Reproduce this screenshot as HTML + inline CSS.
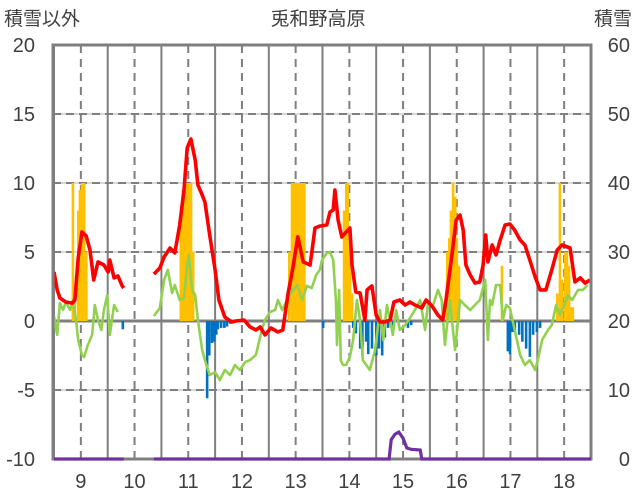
<!DOCTYPE html>
<html><head><meta charset="utf-8"><style>
body{margin:0;background:#fff;}
svg{display:block;font-family:"Liberation Sans","Noto Sans CJK JP",sans-serif;}
</style></head><body>
<svg id="chart" width="636" height="501" viewBox="0 0 636 501">
<text x="318" y="25" text-anchor="middle" font-size="19" fill="#404040">兎和野高原</text>
<text x="4" y="25" font-size="19" fill="#404040">積雪以外</text>
<text x="632" y="25" text-anchor="end" font-size="19" fill="#404040">積雪</text>
<g id="grid"></g>
<g id="bars"></g>
<g id="lines"></g>
<g id="frame"></g>
<g id="ticks"></g>
</svg>
<script>
const dayLabels=[9,10,11,12,13,14,15,16,17,18];
const leftTicks=[20,15,10,5,0,-5,-10];
const rightTicks=[60,50,40,30,20,10,0];
const redT=[9.00,9.06,9.11,9.22,9.34,9.39,9.45,9.52,9.60,9.67,9.74,9.82,9.93,10.01,10.04,10.12,10.19,10.27,10.30,null,10.86,10.97,11.05,11.16,11.25,11.34,11.42,11.48,11.55,11.63,11.68,11.76,11.81,11.90,12.00,12.07,12.18,12.31,12.39,12.54,12.65,12.76,12.84,12.93,13.04,13.17,13.26,13.36,13.45,13.54,13.64,13.77,13.86,13.95,14.08,14.14,14.20,14.23,14.29,14.36,14.44,14.51,14.55,14.62,14.70,14.79,14.83,14.92,15.00,15.07,15.16,15.26,15.33,15.44,15.54,15.63,15.72,15.85,15.93,16.04,16.15,16.24,16.30,16.41,16.49,16.56,16.62,16.67,16.75,16.84,16.93,16.99,17.04,17.08,17.16,17.23,17.31,17.40,17.49,17.58,17.68,17.77,17.86,17.96,18.05,18.16,18.27,18.37,18.46,18.61,18.70,18.80,18.89,18.98];
const redV=[3.55,2.25,1.67,1.38,1.3,1.52,4.57,6.45,6.16,5.14,2.97,4.28,4.06,3.55,4.42,3.12,3.26,2.54,2.39,null,3.4,3.84,4.64,5.29,4.93,6.96,9.49,12.54,13.19,11.67,9.86,9.13,8.62,6.23,3.7,1.52,0.29,-0.07,0,0.07,-0.43,-0.65,-0.43,-1.01,-0.51,-0.8,-0.65,2.0,3.9,6.1,4.28,4.06,6.74,6.88,6.96,7.9,8.04,9.49,7.32,6.09,6.45,6.74,4.06,2.1,2.03,0.07,2.25,2.54,0.43,-0.07,-0.07,0.07,1.38,1.52,1.16,1.38,1.16,0.94,1.52,1.09,0.43,0.07,1.52,4.78,7.32,7.68,6.59,4.06,3.33,2.75,2.83,4.06,6.23,4.28,5.51,4.78,5.87,6.96,7.03,6.59,5.87,5.51,4.42,3.19,2.25,2.25,3.7,5.14,5.51,5.29,2.83,3.12,2.75,2.97];
const greenT=[9.00,9.06,9.11,9.17,9.22,9.30,9.35,9.41,9.45,9.52,9.56,9.63,9.71,9.76,9.82,9.88,9.93,9.99,10.04,10.12,10.19,null,10.86,10.97,11.05,11.12,11.20,11.25,11.34,11.42,11.48,11.51,11.57,11.63,11.68,11.76,11.81,11.90,12.00,12.09,12.18,12.28,12.37,12.46,12.56,12.65,12.76,12.87,12.93,13.02,13.12,13.17,13.25,13.34,13.45,13.53,13.62,13.71,13.80,13.88,13.95,13.99,14.08,14.14,14.20,14.25,14.27,14.31,14.34,14.38,14.44,14.51,14.57,14.64,14.70,14.75,14.88,14.98,15.07,15.13,15.20,15.26,15.31,15.37,15.44,15.54,15.63,15.72,15.82,15.91,15.96,16.06,16.15,16.22,16.28,16.37,16.41,16.47,16.56,16.65,16.75,16.84,16.93,17.03,17.08,17.12,17.16,17.23,17.31,17.36,17.42,17.49,17.58,17.68,17.77,17.86,17.96,18.01,18.09,18.20,18.27,18.35,18.42,18.50,18.57,18.65,18.76,18.85,18.94];
const greenV=[0.36,-1.01,1.3,0.8,1.38,0.8,1.52,0.07,-1.38,-2.46,-2.61,-1.74,-1.01,1.16,0.07,-0.65,0.8,1.88,-1.01,1.16,0.65,null,0.36,0.94,2.97,3.7,2.03,2.61,1.52,1.67,4.06,4.78,2.25,1.88,0.07,-2.1,-2.83,-3.91,-3.7,-4.28,-3.55,-3.91,-3.19,-3.55,-2.97,-2.83,-2.46,-0.65,0.07,0.65,0.8,1.52,0.8,1.52,2.25,2.61,1.52,2.54,2.39,3.33,3.7,4.42,4.93,5.0,4.42,1.52,-1.74,2.25,-2.83,-3.19,-3.19,-2.61,-1.38,1.52,0.07,-2.83,-3.55,-2.1,0.8,-1.38,1.16,0.07,-1.01,0.8,-0.65,-0.29,0.22,0.8,1.52,-0.65,1.16,1.16,2.25,1.52,-1.74,1.52,0.07,-2.1,1.52,1.16,0.8,1.16,1.52,2.97,-1.38,1.52,1.16,2.61,2.61,0.07,1.16,0.94,-0.65,-2.46,-3.19,-2.83,-3.55,-2.83,-1.38,-0.65,-0.29,1.16,0.43,1.16,1.88,1.52,2.25,2.25,2.61];
const orangeT=[9.35,9.39,9.45,9.48,9.52,9.56,9.60,11.36,11.40,11.44,11.48,11.51,11.55,11.59,13.38,13.43,13.47,13.51,13.54,13.58,13.62,13.66,14.40,14.44,14.47,14.51,14.55,16.32,16.36,16.39,16.43,16.47,16.50,16.54,17.34,18.37,18.42,18.46,18.52,18.55,18.59,18.63,18.66];
const orangeV=[10,2,8,9.5,10,10,5,7,9.5,10,10,10,10,5,5,10,10,10,10,10,10,10,8,10,10,6,2,5,6,8,10,9,6,4,4,2,10,3,5,5,4,1,1];
const blueT=[10.28,11.85,11.89,11.94,11.98,12.02,12.05,12.11,12.17,12.22,12.28,14.01,14.57,14.62,14.70,14.74,14.81,14.85,14.92,15.00,15.05,15.11,15.16,15.22,15.29,15.59,15.65,17.45,17.49,17.53,17.58,17.66,17.72,17.79,17.86,17.92,17.99,18.05];
const blueV=[-0.6,-5.6,-2.5,-1.6,-1.5,-1,-0.6,-0.5,-0.5,-0.4,-0.2,-0.5,-0.5,-0.9,-2,-2.5,-1.5,-2.4,-2,-2.5,-2,-2.5,-1.2,-0.5,-0.5,-0.5,-0.3,-2.2,-2.4,-0.8,-0.8,-1,-1.5,-2,-2.6,-1,-0.8,-0.5];
const purpleT=[9.0,10.30,null,10.86,15.24,15.28,15.35,15.42,15.50,15.57,15.65,15.82,15.85,19.0];
const purpleV=[0,0,null,0,0,2.8,3.6,3.9,3.0,1.6,1.4,1.3,0,0];

const NS='http://www.w3.org/2000/svg';
const X0=53,X1=591,YT=45,YB=459;
function x(t){return 54+(t-9)*53.7;}
function y(v){return YB-(v+10)*(YB-YT)/30;}
function yR(v){return YB-v*(YB-YT)/60;}
function mk(tag,attrs,parent){const e=document.createElementNS(NS,tag);for(const k in attrs)e.setAttribute(k,attrs[k]);document.getElementById(parent).appendChild(e);return e;}

leftTicks.forEach(v=>{if(v===20||v===-10||v===0)return;
 const l=mk('line',{x1:X0,x2:X1,y1:y(v),y2:y(v),stroke:'#d9d9d9','stroke-width':2},'grid');
 
 
 const d=mk('line',{x1:X0,x2:X1,y1:y(v),y2:y(v),stroke:'#7f7f7f','stroke-width':2,'stroke-dasharray':'8,5'},'grid');
 
 
});
for(let d=9;d<=19;d++){
 const s=mk('line',{x1:x(d),x2:x(d),y1:YT,y2:YB,stroke:'#7f7f7f','stroke-width':2},'grid');
 
 
}
dayLabels.forEach(d=>{
 const s=mk('line',{x1:x(d+0.5),x2:x(d+0.5),y1:YT,y2:YB,stroke:'#7f7f7f','stroke-width':2,'stroke-dasharray':'8,6'},'grid');
 
 
});
orangeT.forEach((t,i)=>{
 const b=mk('rect',{x:x(t)-1.2,width:2.6,y:y(orangeV[i]),height:y(0)-y(orangeV[i]),fill:'#ffc000'},'bars');
 
 
});
blueT.forEach((t,i)=>{
 const b=mk('rect',{x:x(t)-1.2,width:2.6,y:y(0),height:y(blueV[i])-y(0),fill:'#0070c0'},'bars');
 
 
});
const z=mk('line',{x1:X0,x2:X1,y1:y(0),y2:y(0),stroke:'#7f7f7f','stroke-width':3},'grid');


function path(T,V,fy){let d='',pen=false;T.forEach((t,i)=>{if(t===null){pen=false;return;}d+=(pen?'L':'M')+x(t).toFixed(1)+' '+fy(V[i]).toFixed(1)+' ';pen=true;});return d;}
const gl=mk('path',{d:path(greenT,greenV,y),fill:'none',stroke:'#92d050','stroke-width':2.6,'stroke-linejoin':'round'},'lines');


const rl=mk('path',{d:path(redT,redV,y),fill:'none',stroke:'#ff0000','stroke-width':3.6,'stroke-linejoin':'round'},'lines');


const fr=mk('rect',{x:X0,y:YT,width:X1-X0,height:YB-YT,fill:'none',stroke:'#7f7f7f','stroke-width':3},'frame');


const pl=mk('path',{d:path(purpleT,purpleV,yR),fill:'none',stroke:'#7030a0','stroke-width':3.2},'frame');


leftTicks.forEach(v=>{
 const t=mk('text',{x:35,y:y(v)+7,'text-anchor':'end','font-size':20,fill:'#404040'},'ticks');
 t.textContent=v;
 
 
});
rightTicks.forEach(v=>{
 const t=mk('text',{x:630,y:yR(v)+7,'text-anchor':'end','font-size':20,fill:'#404040'},'ticks');
 t.textContent=v;
 
 
});
dayLabels.forEach(d=>{
 const t=mk('text',{x:x(d+0.5),y:488,'text-anchor':'middle','font-size':20,fill:'#404040'},'ticks');
 t.textContent=d;
 
 
});
</script>
</body></html>
